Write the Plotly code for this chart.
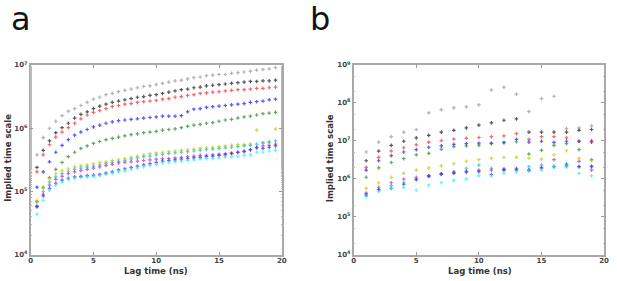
import plotly.graph_objects as go

# ---------------- Panel a data (lag 0.5 .. 19.5 ns) ----------------
lag_a = [0.5, 1.0, 1.5, 2.0, 2.5, 3.0, 3.5, 4.0, 4.5, 5.0, 5.5, 6.0, 6.5, 7.0, 7.5,
         8.0, 8.5, 9.0, 9.5, 10.0, 10.5, 11.0, 11.5, 12.0, 12.5, 13.0, 13.5, 14.0,
         14.5, 15.0, 15.5, 16.0, 16.5, 17.0, 17.5, 18.0, 18.5, 19.0, 19.5]

a_gray = [3.8e5, 7.1e5, 1.0e6, 1.29e6, 1.58e6, 1.86e6, 2.04e6, 2.29e6, 2.57e6, 2.88e6, 3.09e6, 3.39e6, 3.55e6,
          3.80e6, 3.98e6, 4.17e6, 4.37e6, 4.57e6, 4.68e6, 4.90e6, 5.13e6, 5.37e6, 5.62e6, 5.75e6, 6.03e6, 6.31e6,
          6.46e6, 6.76e6, 6.92e6, 7.08e6, 7.08e6, 7.41e6, 7.59e6, 7.76e6, 7.94e6, 8.32e6, 8.51e6, 8.71e6, 9.12e6]
a_black = [2.4e5, 4.47e5, 6.31e5, 8.51e5, 1.02e6, 1.20e6, 1.45e6, 1.66e6, 1.82e6, 2.04e6, 2.24e6, 2.40e6, 2.57e6,
           2.69e6, 2.82e6, 2.95e6, 3.09e6, 3.16e6, 3.31e6, 3.39e6, 3.55e6, 3.72e6, 3.89e6, 4.07e6, 4.17e6, 4.37e6,
           4.47e6, 4.68e6, 4.79e6, 4.90e6, 5.01e6, 5.13e6, 5.25e6, 5.37e6, 5.50e6, 5.50e6, 5.62e6, 5.62e6, 5.75e6]
a_red = [2.04e5, 3.80e5, 5.50e5, 7.24e5, 8.71e5, 1.02e6, 1.20e6, 1.41e6, 1.62e6, 1.78e6, 1.91e6, 2.04e6, 2.19e6,
         2.29e6, 2.40e6, 2.45e6, 2.57e6, 2.63e6, 2.69e6, 2.75e6, 2.88e6, 2.95e6, 3.09e6, 3.16e6, 3.31e6, 3.39e6,
         3.55e6, 3.63e6, 3.72e6, 3.80e6, 3.89e6, 3.98e6, 4.07e6, 4.07e6, 4.17e6, 4.27e6, 4.27e6, 4.37e6, 4.47e6]
a_blue = [1.17e5, 2.04e5, 2.95e5, 4.17e5, 5.37e5, 6.61e5, 7.76e5, 8.71e5, 9.55e5, 1.05e6, 1.12e6, 1.20e6, 1.26e6,
          1.32e6, 1.35e6, 1.38e6, 1.41e6, 1.45e6, 1.48e6, 1.51e6, 1.55e6, 1.55e6, 1.55e6, 1.58e6, 1.82e6, 2.0e6,
          2.04e6, 2.14e6, 2.19e6, 2.24e6, 2.29e6, 2.34e6, 2.40e6, 2.45e6, 2.57e6, 2.63e6, 2.69e6, 2.82e6, 2.88e6]
a_green = [6.9e4, 1.15e5, 1.66e5, 2.24e5, 2.88e5, 3.55e5, 4.17e5, 4.79e5, 5.25e5, 5.75e5, 6.17e5, 6.61e5, 6.92e5,
           7.24e5, 7.59e5, 7.94e5, 8.13e5, 8.51e5, 8.71e5, 8.91e5, 9.33e5, 9.55e5, 9.77e5, 1.02e6, 1.07e6, 1.12e6,
           1.15e6, 1.20e6, 1.23e6, 1.29e6, 1.35e6, 1.38e6, 1.45e6, 1.51e6, 1.55e6, 1.62e6, 1.70e6, 1.74e6, 1.78e6]
a_yellow = [7.2e4, 1.17e5, 1.58e5, 1.91e5, 2.14e5, 2.29e5, 2.45e5, 2.57e5, 2.63e5, 2.75e5, 2.88e5, 2.95e5, 3.09e5,
            3.16e5, 3.31e5, 3.47e5, 3.63e5, 3.80e5, 3.98e5, 4.07e5, 4.17e5, 4.27e5, 4.37e5, 4.47e5, 4.57e5, 4.68e5,
            4.79e5, 4.90e5, 5.01e5, 5.13e5, 5.25e5, 5.37e5, 5.50e5, 5.50e5, 5.62e5, 9.33e5, 5.89e5, 6.03e5, 9.77e5]
a_teal = [6.0e4, 1.0e5, 1.41e5, 1.70e5, 1.91e5, 2.09e5, 2.24e5, 2.34e5, 2.45e5, 2.51e5, 2.63e5, 2.75e5, 2.88e5,
          2.95e5, 3.09e5, 3.24e5, 3.39e5, 3.55e5, 3.63e5, 3.80e5, 3.89e5, 3.98e5, 4.07e5, 4.17e5, 4.27e5, 4.37e5,
          4.47e5, 4.57e5, 4.68e5, 4.79e5, 4.90e5, 5.01e5, 5.13e5, 5.25e5, 5.37e5, 5.62e5, 5.89e5, 6.03e5, 6.31e5]
a_magenta = [5.75e4, 9.12e4, 1.26e5, 1.55e5, 1.74e5, 1.91e5, 2.04e5, 2.14e5, 2.24e5, 2.34e5, 2.45e5, 2.57e5, 2.69e5,
             2.82e5, 2.88e5, 2.95e5, 3.02e5, 3.09e5, 3.16e5, 3.24e5, 3.31e5, 3.31e5, 3.39e5, 3.47e5, 3.55e5, 3.63e5,
             3.72e5, 3.72e5, 3.80e5, 3.89e5, 3.98e5, 4.07e5, 4.17e5, 4.37e5, 4.57e5, 5.01e5, 5.25e5, 5.37e5, 5.62e5]
a_blue2 = [5.75e4, 8.51e4, 1.12e5, 1.35e5, 1.51e5, 1.62e5, 1.70e5, 1.74e5, 1.78e5, 1.82e5, 1.86e5, 1.95e5, 2.04e5,
           2.19e5, 2.29e5, 2.40e5, 2.51e5, 2.63e5, 2.75e5, 2.88e5, 3.02e5, 3.09e5, 3.16e5, 3.24e5, 3.31e5, 3.39e5,
           3.47e5, 3.55e5, 3.63e5, 3.72e5, 3.80e5, 3.98e5, 4.17e5, 4.27e5, 4.57e5, 4.90e5, 4.79e5, 5.01e5, 5.25e5]
a_cyan = [4.37e4, 7.24e4, 1.05e5, 1.26e5, 1.41e5, 1.55e5, 1.62e5, 1.66e5, 1.70e5, 1.74e5, 1.78e5, 1.86e5, 1.95e5,
          2.04e5, 2.14e5, 2.24e5, 2.34e5, 2.45e5, 2.57e5, 2.69e5, 2.82e5, 2.88e5, 2.95e5, 3.02e5, 3.09e5, 3.16e5,
          3.24e5, 3.31e5, 3.31e5, 3.39e5, 3.47e5, 3.55e5, 3.63e5, 3.72e5, 3.80e5, 4.17e5, 4.17e5, 4.37e5, 4.47e5]

# ---------------- Panel b data (lag 1 .. 19 ns) ----------------
lag_b = [1, 2, 3, 4, 5, 6, 7, 8, 9, 10, 11, 12, 13, 14, 15, 16, 17, 18, 19]

b_gray = [5.1e6, 9.3e6, 1.3e7, 1.7e7, 2.0e7, 5.5e7, 6.6e7, 7.4e7, 7.9e7, 8.9e7, 2.2e8, 2.6e8, 1.7e8, 5.9e7,
          1.3e8, 1.5e8, 2.1e7, 2.2e7, 2.5e7]
b_black = [3.0e6, 5.4e6, 7.6e6, 9.8e6, 1.2e7, 1.4e7, 1.7e7, 1.9e7, 2.2e7, 2.6e7, 3.0e7, 3.5e7, 3.8e7, 1.7e7,
           1.7e7, 1.7e7, 1.7e7, 1.9e7, 2.0e7]
b_red = [2.0e6, 3.7e6, 5.4e6, 6.6e6, 7.9e6, 9.3e6, 1.02e7, 1.12e7, 1.17e7, 1.23e7, 1.29e7, 1.35e7, 1.55e7, 1.1e7,
         1.29e7, 1.29e7, 1.2e7, 9.8e6, 1.02e7]
b_blue = [1.7e6, 3.0e6, 4.1e6, 5.1e6, 5.9e6, 6.8e6, 7.4e6, 8.1e6, 8.5e6, 8.7e6, 8.7e6, 9.1e6, 1.1e7, 9.3e6,
          9.8e6, 9.1e6, 9.8e6, 9.8e6, 9.3e6]
b_green = [1.1e6, 1.95e6, 2.7e6, 3.4e6, 4.3e6, 4.7e6, 6.0e6, 7.1e6, 7.4e6, 7.6e6, 8.5e6, 8.9e6, 9.5e6, 4.5e6,
           5.6e6, 7.6e6, 8.5e6, 5.9e6, 3.2e6]
b_yellow = [5.6e5, 7.9e5, 1.1e6, 1.4e6, 1.7e6, 1.95e6, 2.2e6, 2.5e6, 2.9e6, 3.2e6, 3.5e6, 3.7e6, 3.7e6, 3.5e6,
            3.3e6, 4.3e6, 5.5e6, 3.5e6, 3.0e6]
b_teal = [4.0e5, 5.2e5, 6.6e5, 7.9e5, 1.0e6, 1.15e6, 1.3e6, 1.5e6, 1.9e6, 2.3e6, 1.9e6, 1.8e6, 1.8e6, 2.1e6,
          2.3e6, 2.1e6, 2.5e6, 2.1e6, 2.2e6]
b_magenta = [4.2e5, 6.0e5, 7.9e5, 9.8e5, 1.1e6, 1.2e6, 1.35e6, 1.5e6, 1.6e6, 1.7e6, 1.7e6, 1.8e6, 1.9e6, 1.7e6,
             2.0e6, 3.2e6, 2.1e6, 2.9e6, 1.7e6]
b_blue2 = [3.7e5, 5.2e5, 5.6e5, 7.2e5, 9.5e5, 1.2e6, 1.35e6, 1.4e6, 1.5e6, 1.55e6, 1.3e6, 1.7e6, 1.7e6, 1.7e6,
           1.9e6, 2.1e6, 2.3e6, 2.1e6, 2.1e6]
b_cyan = [3.4e5, 4.6e5, 5.6e5, 5.9e5, 5.0e5, 6.8e5, 7.9e5, 9.1e5, 1.0e6, 1.2e6, 1.2e6, 1.4e6, 1.5e6, 1.6e6,
          1.7e6, 2.1e6, 2.1e6, 1.4e6, 1.2e6]

series_names = ["gray", "black", "red", "blue", "green", "yellow", "teal", "magenta", "blue2", "cyan"]
series_colors = ["#9a9a9a", "#222222", "#ff3030", "#2020ff", "#2e8b2e", "#c8c800", "#20c0c0", "#c030c0",
                 "#3030e0", "#30f0f0"]
panel_a = [a_gray, a_black, a_red, a_blue, a_green, a_yellow, a_teal, a_magenta, a_blue2, a_cyan]
panel_b = [b_gray, b_black, b_red, b_blue, b_green, b_yellow, b_teal, b_magenta, b_blue2, b_cyan]

fig = go.Figure()
for name, col, ya in zip(series_names, series_colors, panel_a):
    fig.add_trace(go.Scatter(x=lag_a, y=ya, mode="markers", name=name, xaxis="x", yaxis="y",
                             marker=dict(symbol="cross", size=3, color=col, opacity=0.75)))
for name, col, yb in zip(series_names, series_colors, panel_b):
    fig.add_trace(go.Scatter(x=lag_b, y=yb, mode="markers", name=name, xaxis="x2", yaxis="y2",
                             marker=dict(symbol="cross", size=3, color=col, opacity=0.75)))

W, H = 617, 281
y_dom = [1 - 258 / H, 1 - 62 / H]
tickfont = dict(family="DejaVu Sans", size=7, color="#444444", weight="bold")
common_x = dict(range=[0, 20], tickvals=[0, 5, 10, 15, 20], ticks="inside", ticklen=3, tickcolor="#999",
                showline=True, linecolor="#a8a8a8", linewidth=1.5, mirror="ticks", showgrid=False,
                zeroline=False, tickfont=tickfont, ticklabelstandoff=-2)
common_y = dict(type="log", ticks="inside", ticklen=3, tickcolor="#999", showline=True, linecolor="#a8a8a8",
                linewidth=1.5, mirror="ticks", showgrid=False, zeroline=False, tickfont=tickfont,
                minor=dict(ticks="inside", ticklen=1.5, tickcolor="#bbb"))

fig.update_layout(
    width=W, height=H, margin=dict(l=0, r=0, t=0, b=0),
    paper_bgcolor="white", plot_bgcolor="white", showlegend=False,
    xaxis=dict(domain=[29 / W, 283 / W], anchor="y", **common_x),
    yaxis=dict(domain=y_dom, anchor="x", range=[4, 7],
               tickvals=[1e4, 1e5, 1e6, 1e7],
               ticktext=["10<sup>4</sup>", "10<sup>5</sup>", "10<sup>6</sup>", "10<sup>7</sup>"], **common_y),
    xaxis2=dict(domain=[355.7 / W, 609 / W], anchor="y2", **common_x),
    yaxis2=dict(domain=y_dom, anchor="x2", range=[4, 9],
                tickvals=[1e4, 1e5, 1e6, 1e7, 1e8, 1e9],
                ticktext=["10<sup>4</sup>", "10<sup>5</sup>", "10<sup>6</sup>", "10<sup>7</sup>",
                          "10<sup>8</sup>", "10<sup>9</sup>"], **common_y),
)

title_font = dict(family="DejaVu Sans", size=8.5, color="#333333", weight="bold")
label_font = dict(family="DejaVu Sans", size=32, color="#111")
ann = [
    dict(text="a", x=8 / W, y=1.0, font=label_font),
    dict(text="b", x=311 / W, y=1.0, font=label_font),
    dict(text="Lag time (ns)", x=156 / W, y=1 - 275 / H, font=title_font),
    dict(text="Lag time (ns)", x=483 / W, y=1 - 275 / H, font=title_font),
    dict(text="Implied time scale", x=6 / W, y=1 - 158 / H, textangle=-90, font=title_font),
    dict(text="Implied time scale", x=332 / W, y=1 - 158 / H, textangle=-90, font=title_font),
]
for a in ann:
    a.update(xref="paper", yref="paper", showarrow=False, xanchor="center", yanchor="middle")
    if a["text"] in ("a", "b"):
        a["xanchor"] = "left"
        a["yanchor"] = "top"
        a["borderpad"] = 0
        a["yshift"] = 6
    fig.add_annotation(**a)

fig.write_html("out.html", config={"displayModeBar": False},
               post_script="document.body.style.margin='0';")
